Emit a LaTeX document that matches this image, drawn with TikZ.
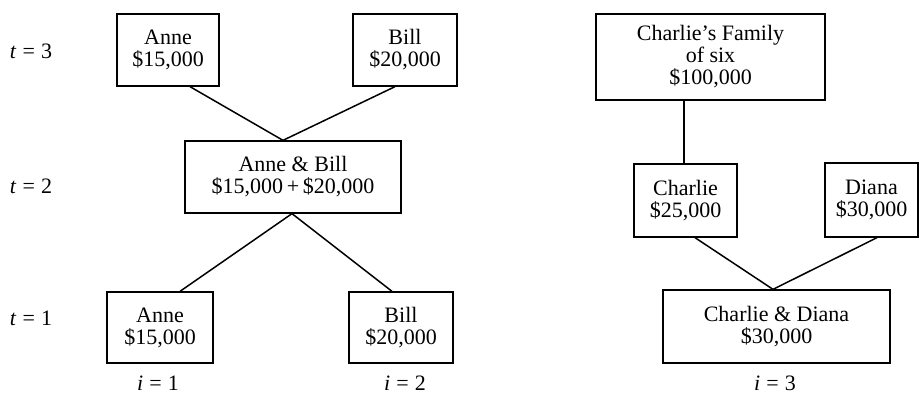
\documentclass[tikz,border=0pt]{standalone}
\usepackage{fontspec}
\setmainfont{Liberation Serif}
\usetikzlibrary{calc}
\begin{document}
\begin{tikzpicture}[x=1pt,y=-1pt,
  box/.style={draw, line width=1.3pt, rectangle, align=center, inner sep=0pt,
    font=\fontsize{22}{22}\selectfont},
  lab/.style={inner sep=0pt, font=\fontsize{22}{22}\selectfont},
  conn/.style={line width=1.5pt}]
\useasboundingbox (0,0) rectangle (921,395);
% left group
\node[box, minimum width=102, minimum height=72] (a3) at (168,50) {Anne\\\$15,000};
\node[box, minimum width=104, minimum height=72] (b3) at (405,50) {Bill\\\$20,000};
\node[box, minimum width=216, minimum height=72] (ab) at (293,177) {Anne \& Bill\\\$15,000\,+\,\$20,000};
\node[box, minimum width=106, minimum height=71] (a1) at (160,327.5) {Anne\\\$15,000};
\node[box, minimum width=104, minimum height=71] (b1) at (401,327.5) {Bill\\\$20,000};
% right group
\node[box, minimum width=229, minimum height=86] (cf) at (710.5,57) {Charlie's Family\\of six\\\$100,000};
\node[box, minimum width=103, minimum height=73] (c2) at (685.5,200.5) {Charlie\\\$25,000};
\node[box, minimum width=93, minimum height=74] (d2) at (871.5,200) {Diana\\\$30,000};
\node[box, minimum width=227, minimum height=73] (cd) at (776.5,326.5) {Charlie \& Diana\\\$30,000};
% connectors
\draw[conn] ($(a3.south)+(22,0)$) -- ($(ab.north)+(-10,0)$);
\draw[conn] ($(b3.south)+(-10,0)$) -- ($(ab.north)+(-10,0)$);
\draw[conn] ($(ab.south)+(-1,0)$) -- ($(a1.north)+(20,0)$);
\draw[conn] ($(ab.south)+(-1,0)$) -- ($(b1.north)+(-9,0)$);
\draw[conn] ($(cf.south)+(-26.5,0)$) -- ($(c2.north)+(-1.5,0)$);
\draw[conn] ($(c2.south)+(9.5,0)$) -- ($(cd.north)+(-3.5,0)$);
\draw[conn] ($(d2.south)+(5.5,0)$) -- ($(cd.north)+(-3.5,0)$);
% labels
\node[lab] (t3) at (31,51) {\textit{t}\;=\;3};
\node[lab] (t2) at (31,186) {\textit{t}\;=\;2};
\node[lab] (t1) at (31,318) {\textit{t}\;=\;1};
\node[lab] (i1) at (158,383) {\textit{i}\;=\;1};
\node[lab] (i2) at (405,383) {\textit{i}\;=\;2};
\node[lab] (i3) at (775,383) {\textit{i}\;=\;3};
\end{tikzpicture}
\end{document}
